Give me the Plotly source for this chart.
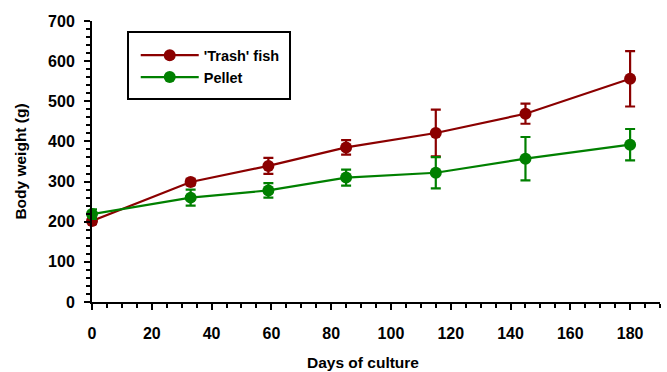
import plotly.graph_objects as go

days = [0, 33, 59, 85, 115, 145, 180]
trash = [202, 299, 339, 385, 421, 469, 556]
trash_err = [8, 8, 20, 18, 58, 25, 69]
pellet = [219, 260, 278, 310, 322, 357, 392]
pellet_err = [12, 20, 18, 20, 39, 54, 39]

RED = "#8B0000"
GREEN = "#008000"
FONT = "Arial, Liberation Sans, sans-serif"

fig = go.Figure()
for name, y, e, c in [("'Trash' fish", trash, trash_err, RED),
                      ("Pellet", pellet, pellet_err, GREEN)]:
    fig.add_trace(go.Scatter(
        x=days, y=y, name=name, mode="lines+markers",
        line=dict(color=c, width=2.2),
        marker=dict(color=c, size=12, symbol="circle"),
        error_y=dict(type="data", array=e, visible=True, color=c,
                     thickness=2.2, width=5),
        cliponaxis=False,
    ))

# legend frame (paper coordinates)
fig.add_shape(type="rect", xref="paper", yref="paper",
              x0=0.0634, x1=0.3486, y0=0.722, y1=0.961,
              line=dict(color="black", width=2), fillcolor="rgba(0,0,0,0)")

# x-axis title, centred under the labelled 0-180 span
fig.add_annotation(text="Days of culture", xref="paper", yref="paper",
                   x=0.477, y=-0.215, xanchor="center", yanchor="middle",
                   showarrow=False,
                   font=dict(family=FONT, size=15.5, weight="bold", color="black"))

fig.update_layout(
    width=667, height=372,
    margin=dict(l=92, r=7, t=21, b=70),
    paper_bgcolor="white", plot_bgcolor="white",
    font=dict(family=FONT, size=13, color="black"),
    showlegend=True,
    legend=dict(
        x=0.077, y=0.935, xanchor="left", yanchor="top",
        borderwidth=0, bgcolor="rgba(0,0,0,0)",
        font=dict(family=FONT, size=14.5, color="black", weight="bold"),
        itemwidth=58,
    ),
    xaxis=dict(
        range=[0, 190], tickvals=list(range(0, 181, 20)),
        showline=True, linecolor="black", linewidth=2,
        ticks="outside", ticklen=6, tickwidth=2, tickcolor="black",
        minor=dict(dtick=5, tick0=0, ticks="outside", ticklen=4, tickwidth=2, tickcolor="black"),
        showgrid=False, zeroline=False, automargin=False,
        tickfont=dict(family=FONT, size=16, weight="bold"),
        ticklabelstandoff=10,
    ),
    yaxis=dict(
        range=[0, 700], tickmode="linear", tick0=0, dtick=100,
        showline=True, linecolor="black", linewidth=2,
        ticks="outside", ticklen=6, tickwidth=2, tickcolor="black",
        minor=dict(dtick=20, tick0=0, ticks="outside", ticklen=4, tickwidth=2, tickcolor="black"),
        showgrid=False, zeroline=False, automargin=False,
        tickfont=dict(family=FONT, size=16, weight="bold"),
        ticklabelstandoff=6,
        title=dict(text="Body weight (g)", font=dict(family=FONT, size=15.5, weight="bold"), standoff=18),
    ),
)

fig.write_html("out.html")
